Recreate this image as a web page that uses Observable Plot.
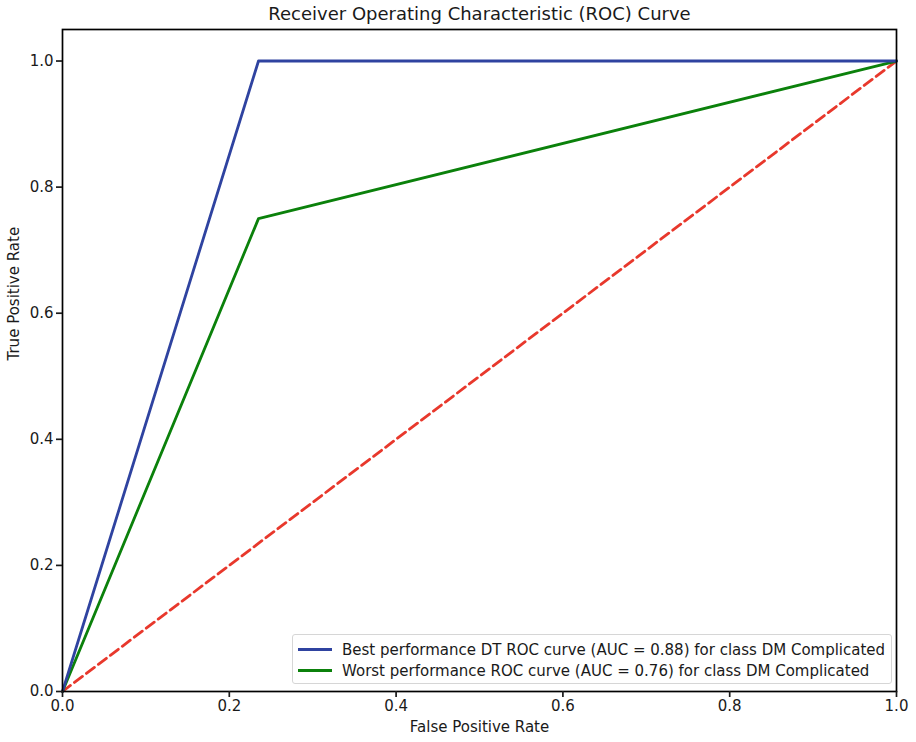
<!DOCTYPE html>
<html>
<head>
<meta charset="utf-8">
<script src="https://cdn.jsdelivr.net/npm/d3@7"></script>
<script src="https://cdn.jsdelivr.net/npm/@observablehq/plot@0.6"></script>
<style>
  html, body { margin: 0; padding: 0; background: #fff; }
  #wrap { position: relative; width: 916px; height: 742px; font-family: "DejaVu Sans", sans-serif; }
  #legend { position: absolute; left: 292px; top: 634px; width: 600px; height: 50px; border: 1px solid #d6d6d6; border-radius: 3px; background: rgba(255,255,255,0.85); box-sizing: border-box; padding: 4px 0 0 5px; font-size: 15px; color: #1a1a1a; }
  #legend .row { display: flex; align-items: center; height: 21px; }
  #legend .sw { width: 34px; height: 3px; margin-right: 10px; }
</style>
</head>
<body>
<div id="wrap"><div id="chart"></div><div id="legend"></div></div>
<script>
const bestFpr = [0.0, 0.235, 1.0];
const bestTpr = [0.0, 1.0, 1.0];
const worstFpr = [0.0, 0.235, 1.0];
const worstTpr = [0.0, 0.75, 1.0];
const chanceX = [0.0, 1.0];
const chanceY = [0.0, 1.0];
const tickValues = [0, 0.2, 0.4, 0.6, 0.8, 1.0];
const seriesNames = [
  "Best performance DT ROC curve (AUC = 0.88) for class DM Complicated",
  "Worst performance ROC curve (AUC = 0.76) for class DM Complicated"
];
const titleText = "Receiver Operating Characteristic (ROC) Curve";
const xLabel = "False Positive Rate";
const yLabel = "True Positive Rate";

const colors = ["#2f43a0", "#0b810b"];
const chanceColor = "#e8382c";

const best = bestFpr.map((x, i) => ({x, y: bestTpr[i]}));
const worst = worstFpr.map((x, i) => ({x, y: worstTpr[i]}));
const chance = chanceX.map((x, i) => ({x, y: chanceY[i]}));

const chart = Plot.plot({
  width: 916,
  height: 742,
  marginLeft: 62,
  marginRight: 20,
  marginTop: 29,
  marginBottom: 51,
  style: {fontFamily: "DejaVu Sans, sans-serif", fontSize: "15px", color: "#1a1a1a", background: "#fff"},
  x: {domain: [0, 1], label: null},
  y: {domain: [0, 1.05], label: null},
  marks: [
    Plot.line(chance, {x: "x", y: "y", stroke: chanceColor, strokeWidth: 2.8, strokeDasharray: "10,5"}),
    Plot.line(worst, {x: "x", y: "y", stroke: colors[1], strokeWidth: 2.8}),
    Plot.line(best, {x: "x", y: "y", stroke: colors[0], strokeWidth: 2.8}),
    Plot.frame({stroke: "#000", strokeWidth: 1.7}),
    Plot.axisX({ticks: tickValues, tickFormat: d3.format(".1f"), tickSize: 6, tickPadding: 3, strokeWidth: 1.7, fontSize: 15, label: null}),
    Plot.axisY({ticks: tickValues, tickFormat: d3.format(".1f"), tickSize: 6, tickPadding: 3, strokeWidth: 1.7, fontSize: 15, label: null}),
    Plot.text([titleText], {frameAnchor: "top", dy: -15, lineAnchor: "middle", fontSize: 18, fill: "#1a1a1a"}),
    Plot.text([xLabel], {frameAnchor: "bottom", dy: 40, fontSize: 15, fill: "#1a1a1a"}),
    Plot.text([yLabel], {frameAnchor: "left", dx: -48, rotate: -90, fontSize: 15, fill: "#1a1a1a"})
  ]
});
document.getElementById("chart").appendChild(chart);

const legend = document.getElementById("legend");
seriesNames.forEach((name, i) => {
  const row = document.createElement("div");
  row.className = "row";
  const sw = document.createElement("span");
  sw.className = "sw";
  sw.style.background = colors[i];
  const t = document.createElement("span");
  t.textContent = name;
  row.appendChild(sw); row.appendChild(t);
  legend.appendChild(row);
});
</script>
</body>
</html>
